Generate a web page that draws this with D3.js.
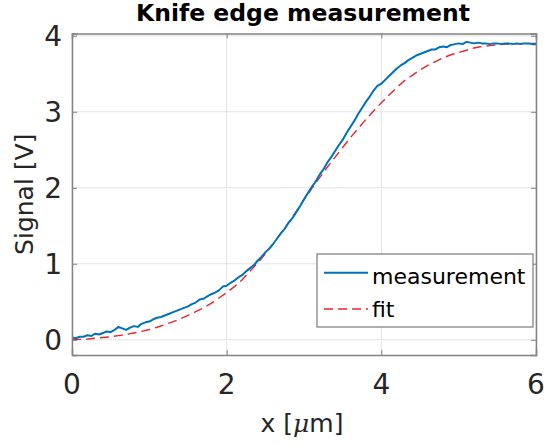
<!DOCTYPE html>
<html>
<head>
<meta charset="utf-8">
<script src="https://cdn.jsdelivr.net/npm/d3@7"></script>
<style>
  html, body { margin: 0; padding: 0; background: #ffffff; }
  svg { display: block; }
  text { font-family: "DejaVu Sans", "Liberation Sans", sans-serif; }
</style>
</head>
<body>
<svg id="chart" width="545" height="445"></svg>
<script>
// ---- data ----
const titleText = "Knife edge measurement";
const xLabelText = "x [";
const yLabelText = "Signal [V]";
const seriesNames = ["measurement", "fit"];

const xTicks = [0, 2, 4, 6];
const yTicks = [0, 1, 2, 3, 4];

const measX = [0.00,0.05,0.10,0.15,0.20,0.25,0.30,0.35,0.40,0.45,0.50,0.55,0.60,0.65,0.70,0.75,0.80,0.85,0.90,0.95,
  1.00,1.05,1.10,1.15,1.20,1.25,1.30,1.35,1.40,1.45,1.50,1.55,1.60,1.65,1.70,1.75,1.80,1.85,1.90,1.95,
  2.00,2.05,2.10,2.15,2.20,2.25,2.30,2.35,2.40,2.45,2.50,2.55,2.60,2.65,2.70,2.75,2.80,2.85,2.90,2.95,
  3.00,3.05,3.10,3.15,3.20,3.25,3.30,3.35,3.40,3.45,3.50,3.55,3.60,3.65,3.70,3.75,3.80,3.85,3.90,3.95,
  4.00,4.05,4.10,4.15,4.20,4.25,4.30,4.35,4.40,4.45,4.50,4.55,4.60,4.65,4.70,4.75,4.80,4.85,4.90,4.95,
  5.00,5.05,5.10,5.15,5.20,5.25,5.30,5.35,5.40,5.45,5.50,5.55,5.60,5.65,5.70,5.75,5.80,5.85,5.90,5.95,6.00];
const measY = [0.03,0.02,0.04,0.04,0.06,0.05,0.08,0.07,0.09,0.11,0.10,0.13,0.17,0.15,0.13,0.16,0.18,0.17,0.21,0.23,
  0.24,0.27,0.29,0.30,0.32,0.34,0.36,0.38,0.40,0.42,0.44,0.47,0.49,0.53,0.54,0.57,0.60,0.62,0.65,0.70,
  0.71,0.75,0.78,0.82,0.85,0.90,0.94,0.98,1.04,1.09,1.15,1.20,1.26,1.33,1.40,1.46,1.54,1.60,1.68,1.76,
  1.85,1.93,2.01,2.08,2.17,2.24,2.33,2.40,2.48,2.56,2.63,2.72,2.80,2.88,2.97,3.05,3.13,3.20,3.28,3.34,
  3.37,3.42,3.47,3.52,3.57,3.61,3.64,3.68,3.71,3.74,3.76,3.78,3.80,3.82,3.82,3.85,3.86,3.85,3.88,3.89,
  3.90,3.89,3.92,3.91,3.90,3.91,3.90,3.90,3.89,3.90,3.90,3.89,3.90,3.90,3.89,3.90,3.89,3.90,3.90,3.89,3.89];

const fitX = [0.0,0.1,0.2,0.3,0.4,0.5,0.6,0.7,0.8,0.9,1.0,1.1,1.2,1.3,1.4,1.5,1.6,1.7,1.8,1.9,
  2.0,2.1,2.2,2.3,2.4,2.5,2.6,2.7,2.8,2.9,3.0,3.1,3.2,3.3,3.4,3.5,3.6,3.7,3.8,3.9,
  4.0,4.1,4.2,4.3,4.4,4.5,4.6,4.7,4.8,4.9,5.0,5.1,5.2,5.3,5.4,5.5,5.6,5.7,5.8,5.9,6.0];
const fitY = [0.00,0.005,0.01,0.02,0.03,0.04,0.055,0.07,0.09,0.11,0.135,0.165,0.20,0.235,0.275,0.32,0.37,0.42,0.48,0.55,
  0.62,0.70,0.79,0.90,1.01,1.13,1.26,1.40,1.54,1.69,1.84,1.99,2.13,2.27,2.40,2.53,2.66,2.78,2.90,3.01,
  3.12,3.22,3.32,3.41,3.48,3.55,3.61,3.66,3.71,3.75,3.78,3.81,3.84,3.86,3.87,3.88,3.89,3.89,3.90,3.90,3.90];

// ---- layout ----
const svg = d3.select("#chart");
const pLeft = 72, pRight = 536, pTop = 33.5, pBottom = 355;
const x = d3.scaleLinear().domain([0, 6]).range([pLeft, pRight]);
const y = d3.scaleLinear().domain([-0.2, 4.03]).range([pBottom, pTop]);

const boxColor = "#848484";
const textColor = "#262626";
const gridColor = "#e3e3e3";
const blue = "#0072BD";
const red = "#e8262e";

// grid
const grid = svg.append("g");
grid.selectAll(".gx").data(xTicks).join("line")
  .attr("x1", d => x(d)).attr("x2", d => x(d))
  .attr("y1", pTop).attr("y2", pBottom)
  .attr("stroke", gridColor).attr("stroke-width", 1);
grid.selectAll(".gy").data(yTicks).join("line")
  .attr("y1", d => y(d)).attr("y2", d => y(d))
  .attr("x1", pLeft).attr("x2", pRight)
  .attr("stroke", gridColor).attr("stroke-width", 1);

// lines
svg.append("clipPath").attr("id", "clip")
  .append("rect").attr("x", pLeft).attr("y", pTop).attr("width", pRight - pLeft).attr("height", pBottom - pTop);

const lineGen = d3.line().x(d => x(d[0])).y(d => y(d[1]));
const measData = measX.map((v, i) => [v, measY[i]]);
const fitData = fitX.map((v, i) => [v, fitY[i]]);

svg.append("path").datum(fitData)
  .attr("d", lineGen).attr("fill", "none")
  .attr("stroke", red).attr("stroke-width", 1.4)
  .attr("stroke-dasharray", "9,5")
  .attr("clip-path", "url(#clip)");

svg.append("path").datum(measData)
  .attr("d", lineGen).attr("fill", "none")
  .attr("stroke", blue).attr("stroke-width", 2)
  .attr("stroke-linejoin", "round")
  .attr("clip-path", "url(#clip)");

// axes (box with inward ticks)
const tickLen = 5;
const axB = d3.axisBottom(x).tickValues(xTicks).tickSize(-tickLen).tickFormat("");
const axT = d3.axisTop(x).tickValues(xTicks).tickSize(-tickLen).tickFormat("");
const axL = d3.axisLeft(y).tickValues(yTicks).tickSize(-tickLen).tickFormat("");
const axR = d3.axisRight(y).tickValues(yTicks).tickSize(-tickLen).tickFormat("");
function styleAxis(g) {
  g.selectAll("path").attr("stroke", boxColor).attr("stroke-width", 1.5);
  g.selectAll("line").attr("stroke", boxColor).attr("stroke-width", 1);
}
svg.append("g").attr("transform", `translate(0,${pBottom})`).call(axB).call(styleAxis);
svg.append("g").attr("transform", `translate(0,${pTop})`).call(axT).call(styleAxis);
svg.append("g").attr("transform", `translate(${pLeft},0)`).call(axL).call(styleAxis);
svg.append("g").attr("transform", `translate(${pRight},0)`).call(axR).call(styleAxis);
svg.selectAll(".domain").attr("stroke-linecap", "square");

// tick labels
svg.append("g").selectAll("text").data(xTicks).join("text")
  .attr("x", d => x(d)).attr("y", 394)
  .attr("text-anchor", "middle")
  .attr("font-size", 28).attr("fill", textColor)
  .text(d => d3.format("d")(d));
svg.append("g").selectAll("text").data(yTicks).join("text")
  .attr("x", 62).attr("y", d => y(d) + 10.3)
  .attr("text-anchor", "end")
  .attr("font-size", 28).attr("fill", textColor)
  .text(d => d3.format("d")(d));

// title
svg.append("text")
  .attr("x", 303).attr("y", 21)
  .attr("text-anchor", "middle")
  .attr("font-size", 23.5).attr("font-weight", "bold").attr("fill", "#000")
  .text(titleText);

// axis labels
const xl = svg.append("text")
  .attr("x", 302).attr("y", 432)
  .attr("text-anchor", "middle")
  .attr("font-size", 25).attr("fill", textColor);
xl.append("tspan").text(xLabelText);
xl.append("tspan").attr("font-style", "italic").attr("font-family", "DejaVu Serif, serif").text("\u03BC");
xl.append("tspan").text("m]");

svg.append("text")
  .attr("transform", `translate(33,${(pTop + pBottom) / 2}) rotate(-90)`)
  .attr("text-anchor", "middle")
  .attr("font-size", 25).attr("fill", textColor)
  .text(yLabelText);

// legend
const lg = svg.append("g");
lg.append("rect").attr("x", 317).attr("y", 254).attr("width", 216).attr("height", 73)
  .attr("fill", "#fff").attr("stroke", "#7a7a7a").attr("stroke-width", 1.2);
const legendRows = [
  { name: seriesNames[0], color: blue, dash: null, w: 2, ly: 272.7, ty: 284 },
  { name: seriesNames[1], color: red, dash: "9,5", w: 1.4, ly: 309, ty: 317 }
];
legendRows.forEach(r => {
  lg.append("line").attr("x1", 324).attr("x2", 368).attr("y1", r.ly).attr("y2", r.ly)
    .attr("stroke", r.color).attr("stroke-width", r.w)
    .attr("stroke-dasharray", r.dash);
  lg.append("text").attr("x", 372).attr("y", r.ty)
    .attr("font-size", 22).attr("fill", "#000").text(r.name);
});
</script>
</body>
</html>
